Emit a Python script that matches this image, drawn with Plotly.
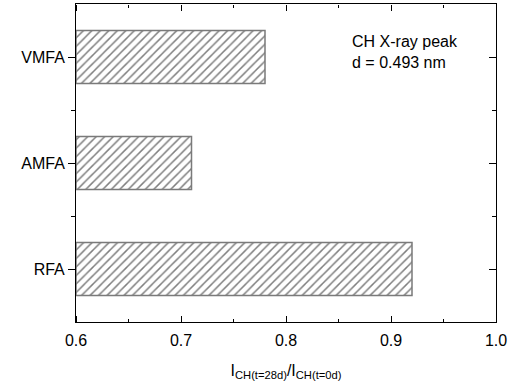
import plotly.graph_objects as go

categories = ["RFA", "AMFA", "VMFA"]
ratios = [0.92, 0.71, 0.78]
x_ticks = [0.6, 0.7, 0.8, 0.9, 1.0]
x_tick_labels = ["0.6", "0.7", "0.8", "0.9", "1.0"]
x_minor = [0.65, 0.75, 0.85, 0.95]
x_min = 0.6
x_max = 1.0

ypos = list(range(len(categories)))
y_minor = [0.5, 1.5]
y_range = [-0.5, len(categories) - 0.5]
FONT = "Liberation Sans, Arial, sans-serif"

fig = go.Figure()
fig.add_trace(go.Bar(
    x=[r - x_min for r in ratios], y=ypos, orientation="h", width=0.5, base=x_min,
    marker=dict(color="white",
                line=dict(color="#7a7a7a", width=1.5),
                pattern=dict(shape="/", fgcolor="black", bgcolor="white", size=6, solidity=0.25)),
    showlegend=False,
))

# invisible helper traces so the tick-only overlay axes are drawn
for xa, ya in [("x2", "y"), ("x3", "y"), ("x", "y2")]:
    fig.add_trace(go.Scatter(x=[x_min], y=[ypos[0]], xaxis=xa, yaxis=ya, mode="markers",
                             marker=dict(opacity=0), showlegend=False, hoverinfo="skip"))

tick_x = dict(range=[x_min, x_max], tickvals=x_ticks, showticklabels=False,
              ticks="outside", ticklen=6, tickwidth=1, tickcolor="black",
              minor=dict(tickvals=x_minor, ticks="outside", ticklen=3, tickwidth=1, tickcolor="black"),
              showline=False, showgrid=False, zeroline=False, automargin=False,
              overlaying="x", anchor="free")

fig.update_layout(
    width=514, height=385,
    margin=dict(l=76, r=18, t=4, b=63),
    plot_bgcolor="white", paper_bgcolor="white",
    font=dict(family=FONT, size=16, color="black"),
    xaxis=dict(range=[x_min, x_max], tickvals=x_ticks, ticktext=x_tick_labels,
               ticks="", showline=True, linecolor="black", linewidth=1, mirror=True,
               showgrid=False, zeroline=False, automargin=False, ticklabelstandoff=4,
               title=dict(text="I<sub>CH(t=28d)</sub>/I<sub>CH(t=0d)</sub>", font=dict(size=16), standoff=16)),
    # bottom edge: ticks pointing up into the plot
    xaxis2=dict(tick_x, side="top", position=0),
    # top edge: ticks pointing down into the plot
    xaxis3=dict(tick_x, side="bottom", position=1),
    yaxis=dict(range=y_range, tickvals=ypos, ticktext=categories,
               ticks="outside", ticklen=7, tickwidth=1, tickcolor="black",
               minor=dict(tickvals=y_minor, ticks="outside", ticklen=4, tickcolor="black"),
               showline=True, linecolor="black", linewidth=1, mirror=True,
               showgrid=False, zeroline=False, automargin=False),
    # right edge: ticks pointing left into the plot
    yaxis2=dict(range=y_range, tickvals=ypos, showticklabels=False,
                ticks="outside", ticklen=7, tickwidth=1, tickcolor="black",
                minor=dict(tickvals=y_minor, ticks="outside", ticklen=4, tickcolor="black"),
                showline=False, showgrid=False, zeroline=False, automargin=False,
                overlaying="y", anchor="free", side="left", position=1),
    annotations=[dict(text="CH X-ray peak<br>d = 0.493 nm", xref="paper", yref="paper",
                      x=0.653, y=0.915, xanchor="left", yanchor="top", align="left",
                      showarrow=False, font=dict(size=16))],
)

fig.write_html("out.html", config={"displayModeBar": False},
               post_script="document.body.style.margin='0';document.body.style.padding='0';")
